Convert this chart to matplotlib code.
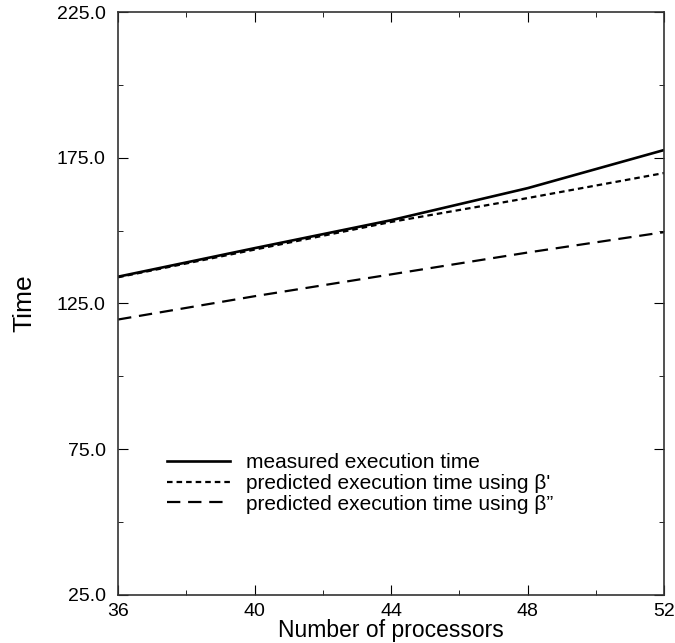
import matplotlib
matplotlib.use('Agg')
import matplotlib.pyplot as plt
import numpy as np

plt.rcParams['font.family'] = ['Liberation Sans', 'DejaVu Sans']

# data
procs = [36, 40, 44, 48, 52]
measured = [134.2, 144.0, 153.6, 164.6, 177.7]
pred_b1 = [134.0, 143.5, 153.0, 161.2, 169.8]
pred_b2 = [119.5, 127.5, 135.0, 142.5, 149.5]

fig = plt.figure(figsize=(6.75, 6.43), dpi=100)
ax = fig.add_axes([0.175, 0.075, 0.809, 0.906])

ax.plot(procs, measured, color='black', lw=1.9, ls='-', label='measured execution time')
ax.plot(procs, pred_b1, color='black', lw=1.6, ls=(0, (2.5, 1.8)), label="predicted execution time using \u03b2'")
ax.plot(procs, pred_b2, color='black', lw=1.6, ls=(0, (6, 3.5)), label='predicted execution time using \u03b2\u201d')

ax.set_xlim(36, 52)
ax.set_ylim(25, 225)
ax.set_xticks([36, 40, 44, 48, 52])
ax.set_xticks([38, 42, 46, 50], minor=True)
ax.set_yticks([25, 75, 125, 175, 225])
ax.set_yticks([50, 100, 150, 200], minor=True)
ax.set_yticklabels(['25.0', '75.0', '125.0', '175.0', '225.0'])
ax.tick_params(direction='in', which='major', length=7, labelsize=14, top=True, right=True)
ax.tick_params(direction='in', which='minor', length=3.5, top=True, right=True)
ax.tick_params(axis='x', pad=6)
ax.tick_params(axis='y', pad=9)
for s in ax.spines.values():
    s.set_linewidth(1.2)
    s.set_color('#333333')

ax.set_xlabel('Number of processors', fontsize=16.5, labelpad=-1)
ax.set_ylabel('Time', fontsize=19, labelpad=15)

ax.legend(loc='upper left', bbox_to_anchor=(0.075, 0.257), frameon=False, fontsize=15,
          handlelength=3.0, handletextpad=0.75, labelspacing=0.08, borderaxespad=0)

fig.savefig('out.png', dpi=100)
